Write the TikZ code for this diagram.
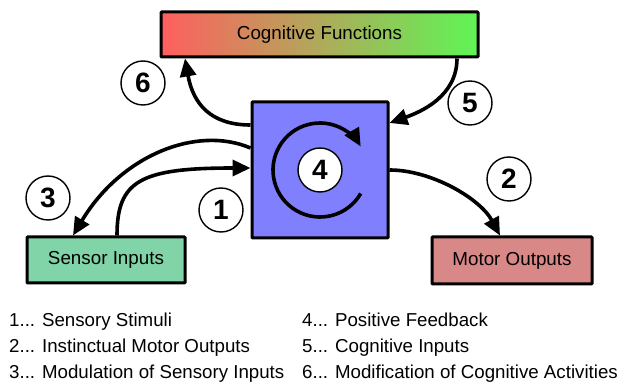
\documentclass[tikz,border=0pt]{standalone}
\usepackage{fontspec}
\setmainfont{Liberation Sans}
\usetikzlibrary{arrows.meta,shadings}
\definecolor{cogL}{RGB}{255,95,95}
\definecolor{cogR}{RGB}{95,245,85}
\definecolor{coreC}{RGB}{128,128,255}
\definecolor{sensC}{RGB}{128,212,168}
\definecolor{motC}{RGB}{217,136,136}
\tikzset{
  boxnode/.style={draw=black, line width=3pt, rounded corners=0.8pt, inner sep=0pt,
    font=\fontsize{18.8}{20}\selectfont},
  numcirc/.style={circle, draw=black, fill=white, line width=1.4pt, minimum size=44pt,
    inner sep=0pt, font=\fontsize{28}{29}\selectfont\bfseries},
  conn/.style={line width=3.6pt, -{Triangle[length=18pt,width=16pt]}},
  legend/.style={anchor=base west, inner sep=0pt, font=\fontsize{18.7}{20}\selectfont}
}
\begin{document}
\begin{tikzpicture}[x=1pt,y=-1pt]
\useasboundingbox (0,0) rectangle (625,390);
\node[boxnode, left color=cogL, right color=cogR, minimum width=317pt, minimum height=45pt] (cog) at (319.5,34.5) {Cognitive Functions};
\node[boxnode, fill=coreC, minimum width=136pt, minimum height=136pt] (core) at (320,170) {};
\node[boxnode, fill=sensC, minimum width=158pt, minimum height=46pt] (sens) at (106,260) {Sensor Inputs};
\node[boxnode, fill=motC, minimum width=160pt, minimum height=47pt] (mot) at (512,260.5) {Motor Outputs};
% feedback loop
\draw[conn] (core.center) ++(-30:47pt) arc[start angle=-30, end angle=-330, radius=47pt];
\node[numcirc] (n4) at (core.center) {4};
% connectors
\draw[conn] ([xshift=11pt]sens.north) .. controls +(0,-55) and +(-110,0) .. ([yshift=2pt]core.west);
\draw[conn] ([yshift=22pt]core.west) .. controls +(-54,-23) and +(48,-80) .. ([xshift=-33pt]sens.north);
\draw[conn] ([yshift=45pt]core.west) .. controls +(-40,0) and +(8,45) .. ([xshift=-134.5pt]cog.south);
\draw[conn] ([xshift=137.5pt]cog.south) .. controls +(0,38) and +(31,-11) .. ([yshift=47pt]core.east);
\draw[conn] (core.east) .. controls +(42,0) and +(-20,-37) .. ([xshift=-12pt]mot.north);
% number circles
\node[numcirc] (n1) at (221,210) {1};
\node[numcirc] (n2) at (509,179) {2};
\node[numcirc] (n3) at (48,198) {3};
\node[numcirc] (n5) at (470,103) {5};
\node[numcirc] (n6) at (143,83) {6};
% legend
\node[legend] (l1) at (9,327) {1... Sensory Stimuli};
\node[legend] (l2) at (9,353) {2... Instinctual Motor Outputs};
\node[legend] (l3) at (9,379) {3... Modulation of Sensory Inputs};
\node[legend] (l4) at (302,327) {4... Positive Feedback};
\node[legend] (l5) at (302,353) {5... Cognitive Inputs};
\node[legend] (l6) at (302,379) {6... Modification of Cognitive Activities};
\end{tikzpicture}
\end{document}
